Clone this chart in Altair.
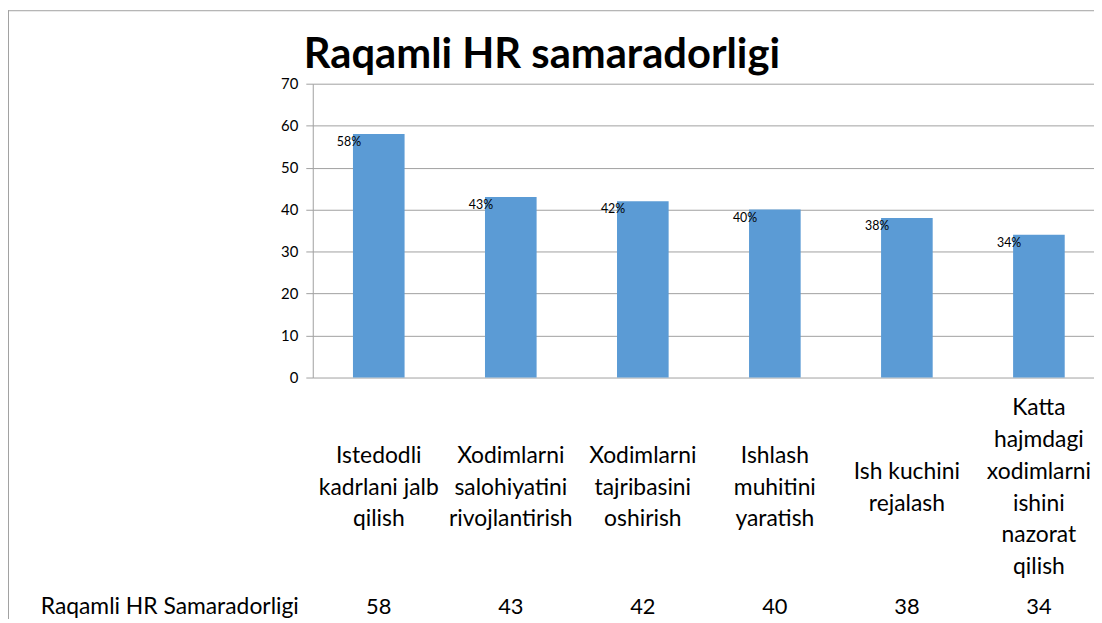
import altair as alt
import pandas as pd

categories = [
    "Istedodli\nkadrlani jalb\nqilish",
    "Xodimlarni\nsalohiyatini\nrivojlantirish",
    "Xodimlarni\ntajribasini\noshirish",
    "Ishlash\nmuhitini\nyaratish",
    "Ish kuchini\nrejalash",
    "Katta\nhajmdagi\nxodimlarni\nishini\nnazorat\nqilish",
]
values = [58, 43, 42, 40, 38, 34]
pct_labels = ["58%", "43%", "42%", "40%", "38%", "34%"]
y_ticks = [0, 10, 20, 30, 40, 50, 60, 70]
title_text = "Raqamli HR samaradorligi"
row_header = "Raqamli HR Samaradorligi"

n_lines = [len(c.split("\n")) for c in categories]

df = pd.DataFrame({"cat": categories, "nl": n_lines,
                   "value": values, "pct": pct_labels})

FONT = "Lato"
GRID = "#a0a0a0"
LINE_H = 32

xenc = alt.X("cat:N", sort=None, axis=None,
             scale=alt.Scale(paddingInner=0, paddingOuter=0, range=[0, 798]))

base = alt.Chart(df)

bars = base.mark_bar(size=52, color="#5B9BD5").encode(
    x=xenc,
    y=alt.Y("value:Q", scale=alt.Scale(domain=[0, 70], nice=False),
            axis=alt.Axis(title=None, values=y_ticks, grid=True, gridColor=GRID,
                          domainColor=GRID, tickColor=GRID, tickSize=7,
                          labelPadding=8, labelFont=FONT, labelFontSize=15,
                          labelColor="#000000", gridWidth=1)),
)

bar_labels = base.mark_text(font=FONT, fontSize=12.5, color="#000000",
                            align="center", baseline="middle", dx=-30, dy=8).encode(
    x=xenc, y=alt.Y("value:Q"), text="pct:N")

# category labels: one layer per line count so each block is centred vertically
cat_layers = []
for n in sorted(set(n_lines)):
    cat_layers.append(
        base.transform_filter(alt.datum.nl == n).mark_text(
            font=FONT, fontSize=23, color="#000000", align="center",
            baseline="middle", lineBreak="\n", lineHeight=LINE_H,
        ).encode(x=xenc, y=alt.value(407 - (n - 1) * LINE_H / 2), text="cat:N")
    )

table_vals = base.mark_text(font=FONT, fontSize=22, color="#000000",
                            align="center", baseline="middle").encode(
    x=xenc, y=alt.value(527), text="value:Q")

one = alt.Chart(pd.DataFrame({"a": [0]}))

header = one.mark_text(font=FONT, fontSize=23, color="#000000",
                       align="center", baseline="middle").encode(
    x=alt.value(-144), y=alt.value(527), text=alt.value(row_header))

title = one.mark_text(font=FONT, fontSize=42, fontWeight="bold", color="#000000",
                      align="left", baseline="alphabetic").encode(
    x=alt.value(-9), y=alt.value(-16), text=alt.value(title_text))

border_left = one.mark_rule(color=GRID, strokeWidth=1).encode(
    x=alt.value(-306.5), y=alt.value(-74), y2=alt.value(560))
border_top = one.mark_rule(color=GRID, strokeWidth=1).encode(
    x=alt.value(-307), x2=alt.value(810), y=alt.value(-73.5))

chart = alt.layer(
    border_left, border_top, bars, bar_labels, *cat_layers, table_vals, header, title
).properties(
    width=787, height=296,
    padding={"left": 307, "top": 74, "right": 0, "bottom": 241},
    autosize="none",
).configure_view(stroke=None)

chart.save("out.html", embed_options={"renderer": "svg", "actions": False})
